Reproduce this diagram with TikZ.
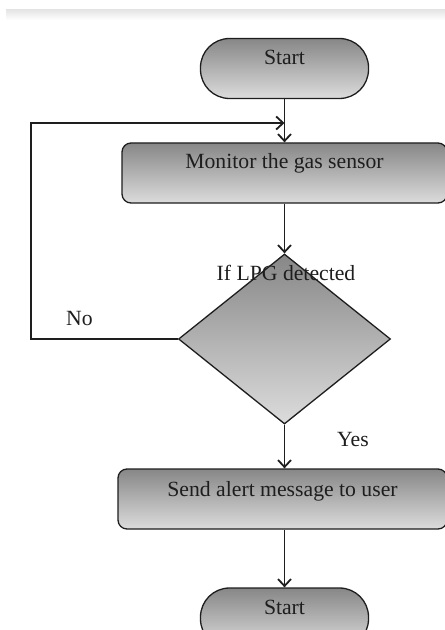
\documentclass[tikz,border=0pt]{standalone}
\usepackage{fontspec}
\setmainfont{Liberation Serif}
\usetikzlibrary{shapes.geometric,arrows.meta}
\definecolor{gtop}{RGB}{135,135,135}
\definecolor{gbot}{RGB}{220,220,220}
\definecolor{ink}{RGB}{30,30,30}
\tikzset{
  base/.style={draw=ink, line width=1.3bp, top color=gtop, bottom color=gbot, inner sep=0pt,
    font=\fontsize{21.7bp}{26bp}\selectfont, text=ink, text height=15bp, text depth=23bp},
  term/.style={base, rounded corners=29bp, minimum width=168bp, minimum height=60bp},
  proc/.style={base, rounded corners=9bp, minimum height=60bp},
  deci/.style={draw=ink, line width=1.3bp, top color=gtop, bottom color=gbot, shape=diamond,
    inner sep=0pt, minimum width=212bp, minimum height=170bp},
  txt/.style={font=\fontsize{21.7bp}{26bp}\selectfont, text=ink, inner sep=0pt},
  conn/.style={draw=ink, line width=1.3bp, -{Straight Barb[length=7bp,width=13bp,line width=1.8bp]}}
}
\begin{document}
\begin{tikzpicture}[x=1bp,y=-1bp]
\useasboundingbox (0,0) rectangle (445,630);
\clip (0,0) rectangle (445,630);
\fill[white] (0,0) rectangle (445,630);
\shade[top color=black!10, bottom color=white] (6,10) rectangle (445,20);
\node[term] (start) at (284.5,68.5) {Start};
\node[proc, minimum width=325bp] (monitor) at (284.5,173) {Monitor the gas sensor};
\node[deci] (dec) at (284.5,339) {};
\node[txt, anchor=base] (declbl) at (286,280) {If LPG detected};
\node[proc, minimum width=329bp, text depth=21bp] (send) at (282.5,499) {Send alert message to user};
\node[term] (end) at (284.5,618) {Start};
\node[txt, anchor=base west] (no) at (66,325) {No};
\node[txt, anchor=base west] (yes) at (337,446) {Yes};
\coordinate (loopc) at (31,123);
\coordinate (join) at (284.5,123);
\draw[conn] (start.south) -- (monitor.north);
\draw[conn] (dec.west) -| (loopc) -- (join);
\draw[conn] (monitor.south) -- (dec.north);
\draw[conn] (dec.south) -- (dec.south |- send.north);
\draw[conn] (send.south -| end.north) -- (end.north);
\end{tikzpicture}
\end{document}
